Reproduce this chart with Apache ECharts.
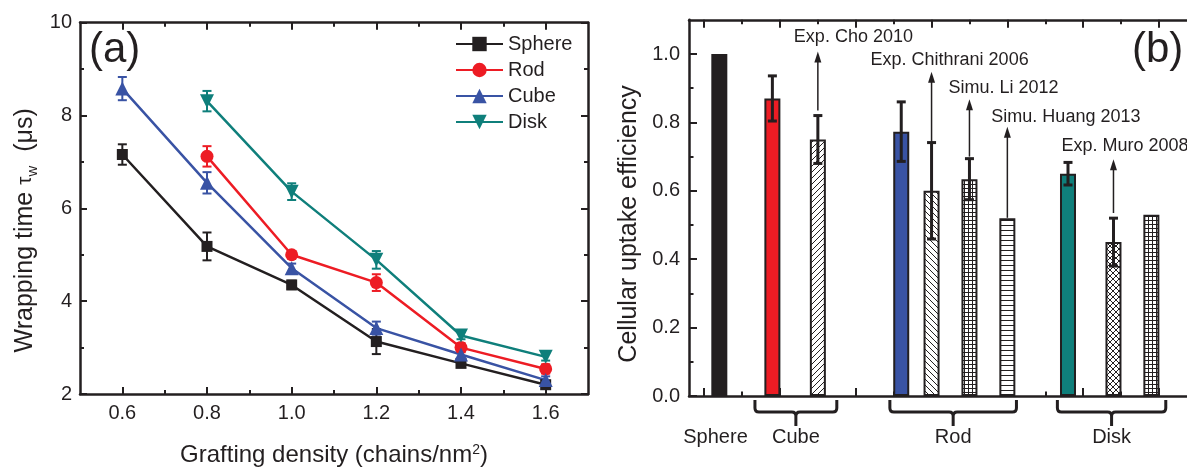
<!DOCTYPE html>
<html><head><meta charset="utf-8">
<script src="https://cdn.jsdelivr.net/npm/echarts@6/dist/echarts.min.js"></script>
<style>html,body{margin:0;padding:0;background:#fff}#c{width:1187px;height:472px}</style>
</head><body><div id="c"></div>
<script>
// ---------- Panel (a) data ----------
const densities = [0.6, 0.8, 1.0, 1.2, 1.4, 1.6];
const sphereTime = [7.16, 5.18, 4.35, 3.13, 2.66, 2.20];
const sphereErr  = [0.22, 0.30, 0.09, 0.27, 0.08, 0.08];
const rodTime    = [null, 7.12, 5.00, 4.40, 3.00, 2.54];
const rodErr     = [null, 0.22, 0.08, 0.18, 0.10, 0.10];
const cubeTime   = [8.58, 6.55, 4.71, 3.42, 2.85, 2.30];
const cubeErr    = [0.25, 0.23, 0.10, 0.14, 0.10, 0.08];
const diskTime   = [null, 8.31, 6.36, 4.89, 3.26, 2.80];
const diskErr    = [null, 0.22, 0.18, 0.19, 0.08, 0.08];
const xTicksA = [0.6, 0.8, 1.0, 1.2, 1.4, 1.6];
const xMinorA = [0.7, 0.9, 1.1, 1.3, 1.5];

// ---------- Panel (b) data ----------
const barPos = [0.4, 1.8, 3, 5.2, 6, 7, 8, 9.6, 10.8, 11.8];
const barVal = [1.0, 0.87, 0.75, 0.773, 0.60, 0.634, 0.52, 0.65, 0.45, 0.53];
const barErr = [null, 0.066, 0.07, 0.087, 0.141, 0.06, null, 0.033, 0.07, null];
const arrowText = ['Exp. Cho 2010', 'Exp. Chithrani 2006', 'Simu. Li 2012', 'Simu. Huang 2013', 'Exp. Muro 2008'];
const arrowPos  = [3, 6, 7, 8, 10.8];
const arrowFrom = [0.835, 0.741, 0.70, 0.521, 0.535];
const arrowTo   = [1.007, 0.948, 0.868, 0.787, 0.692];
const catNames = ['Sphere', 'Cube', 'Rod', 'Disk'];
const catPos   = [0.3, 2.42, 6.57, 10.75];
const groupFrom = [1.34, 4.9, 9.32];
const groupTo   = [3.5, 8.24, 12.18];
const xTicksB = [0, 2, 4, 6, 8, 10, 12];
const xMinorB = [1, 3, 5, 7, 9, 11];
const yTicksB = [0, 0.2, 0.4, 0.6, 0.8, 1.0];
const yMinorB = [0.1, 0.3, 0.5, 0.7, 0.9];

// ---------- styles ----------
const INK = '#231f20';
const FONT = '"Liberation Sans", Arial, Helvetica, sans-serif';
const colA = {Sphere: '#231f20', Rod: '#ed1c24', Cube: '#3953a4', Disk: '#0f7f7b'};
const barFill = ['#231f20', '#ed1c24', 'slash', '#3953a4', 'backslash', 'grid', 'hline', '#0f7f7b', 'cross', 'grid'];
const labelDx = [-24, -61, -21, -16, -52];
const labelDy = [-15, -12, -11, -10, -13];
const XMAX_B = 12.74;

function makePattern(kind) {
  const s = (kind === 'grid') ? 4 : (kind === 'hline' ? 5 : 6);
  const c = document.createElement('canvas');
  c.width = s; c.height = s;
  const g = c.getContext('2d');
  g.fillStyle = '#fff'; g.fillRect(0, 0, s, s);
  g.strokeStyle = INK; g.fillStyle = INK; g.lineWidth = 1;
  const seg = (a, b, cc, d) => { g.beginPath(); g.moveTo(a, b); g.lineTo(cc, d); g.stroke(); };
  if (kind === 'slash' || kind === 'cross') {
    seg(-1, s + 1, s + 1, -1); seg(-1, 1, 1, -1); seg(s - 1, s + 1, s + 1, s - 1);
  }
  if (kind === 'backslash' || kind === 'cross') {
    seg(-1, -1, s + 1, s + 1); seg(-1, s - 1, 1, s + 1); seg(s - 1, -1, s + 1, 1);
  }
  if (kind === 'grid') { g.fillRect(0, 0, s, 1); g.fillRect(0, 0, 1, s); }
  if (kind === 'hline') { g.fillRect(0, 0, s, 1); }
  return {image: c, repeat: 'repeat'};
}
function fillFor(k) { return k.startsWith('#') ? k : makePattern(k); }

function zip(xs, ys) { const o = []; xs.forEach((x, i) => { if (ys[i] != null) o.push([x, ys[i]]); }); return o; }
function errData(xs, ys, es) { const o = []; xs.forEach((x, i) => { if (ys[i] != null && es[i] != null) o.push([x, ys[i] - es[i], ys[i] + es[i]]); }); return o; }

function errRenderer(color, lw, cap) {
  return function (params, api) {
    const x = api.value(0);
    const p1 = api.coord([x, api.value(1)]), p2 = api.coord([x, api.value(2)]);
    const st = {stroke: color, lineWidth: lw};
    return {type: 'group', children: [
      {type: 'line', shape: {x1: p1[0], y1: p1[1], x2: p2[0], y2: p2[1]}, style: st},
      {type: 'line', shape: {x1: p1[0] - cap, y1: p1[1], x2: p1[0] + cap, y2: p1[1]}, style: st},
      {type: 'line', shape: {x1: p2[0] - cap, y1: p2[1], x2: p2[0] + cap, y2: p2[1]}, style: st}
    ]};
  };
}

const tickStyle = {color: INK, width: 2};
function lineOn() { return {show: true, onZero: false, lineStyle: {color: INK, width: 2.5}}; }
function lineOff() { return {show: false, onZero: false}; }
function xAx(grid, pos, min, max, vals, len, showLine, label) {
  const a = {type: 'value', gridIndex: grid, position: pos, min: min, max: max,
    axisLine: showLine ? lineOn() : lineOff(),
    axisTick: {show: true, inside: true, length: len, customValues: vals, lineStyle: tickStyle},
    axisLabel: {show: false}, splitLine: {show: false}};
  if (label) a.axisLabel = Object.assign({show: true, customValues: vals}, label);
  return a;
}
const tickLabel = {fontSize: 20, color: INK, fontFamily: FONT};

const seriesA = [
  {name: 'Sphere', data: sphereTime, err: sphereErr, symbol: 'rect', size: 11, rot: 0},
  {name: 'Rod', data: rodTime, err: rodErr, symbol: 'circle', size: 13, rot: 0},
  {name: 'Cube', data: cubeTime, err: cubeErr, symbol: 'triangle', size: 14, rot: 0},
  {name: 'Disk', data: diskTime, err: diskErr, symbol: 'triangle', size: 14, rot: 180}
];

const series = [];
seriesA.forEach(s => {
  series.push({type: 'custom', name: s.name + ' err', xAxisIndex: 0, yAxisIndex: 0, z: 2,
    renderItem: errRenderer(colA[s.name], 2, 4.5), encode: {x: 0, y: [1, 2]},
    data: errData(densities, s.data, s.err)});
});
seriesA.forEach(s => {
  series.push({type: 'line', name: s.name, xAxisIndex: 0, yAxisIndex: 0, z: 3,
    data: zip(densities, s.data), symbol: s.symbol, symbolSize: s.size, symbolRotate: s.rot,
    color: colA[s.name], lineStyle: {width: 2.5, color: colA[s.name]},
    itemStyle: {color: colA[s.name]}, emphasis: {disabled: true}});
});
series.push({type: 'bar', xAxisIndex: 4, yAxisIndex: 2, barWidth: 16, z: 2,
  data: barPos.map((p, i) => ({value: [p, barVal[i]],
    itemStyle: {color: fillFor(barFill[i]), borderColor: INK, borderWidth: 2}}))});
series.push({type: 'custom', xAxisIndex: 4, yAxisIndex: 2, z: 4, clip: false,
  renderItem: errRenderer(INK, 3, 4.5), encode: {x: 0, y: [1, 2]},
  data: errData(barPos, barVal, barErr)});
series.push({type: 'custom', xAxisIndex: 4, yAxisIndex: 2, z: 5, clip: false,
  encode: {x: 0, y: [1, 2]},
  data: arrowPos.map((p, i) => [p, arrowFrom[i], arrowTo[i]]),
  renderItem: function (params, api) {
    const i = params.dataIndex;
    const a = api.coord([api.value(0), api.value(1)]), b = api.coord([api.value(0), api.value(2)]);
    return {type: 'group', children: [
      {type: 'line', shape: {x1: a[0], y1: a[1], x2: b[0], y2: b[1] + 8}, style: {stroke: INK, lineWidth: 1.5}},
      {type: 'polygon', shape: {points: [[b[0], b[1]], [b[0] - 3.5, b[1] + 11], [b[0] + 3.5, b[1] + 11]]}, style: {fill: INK}},
      {type: 'text', x: b[0] + labelDx[i], y: b[1] + labelDy[i],
        style: {text: arrowText[i], font: '18px ' + FONT, fill: INK, align: 'left', verticalAlign: 'middle'}}
    ]};
  }});
series.push({type: 'custom', xAxisIndex: 4, yAxisIndex: 2, z: 5, clip: false,
  encode: {x: 0, y: 1},
  data: groupFrom.map((f, i) => [f, 0, groupTo[i]]),
  renderItem: function (params, api) {
    const a = api.coord([api.value(0), 0]), b = api.coord([api.value(2), 0]);
    const x1 = a[0], x2 = b[0], xc = (x1 + x2) / 2, y0 = a[1] + 4, yh = a[1] + 16, ys = a[1] + 30;
    const d = `M${x1} ${y0} L${x1} ${yh - 4} Q${x1} ${yh} ${x1 + 4} ${yh} L${xc - 4} ${yh} Q${xc} ${yh} ${xc} ${yh + 4} L${xc} ${ys}` +
              ` M${xc} ${yh + 4} Q${xc} ${yh} ${xc + 4} ${yh} L${x2 - 4} ${yh} Q${x2} ${yh} ${x2} ${yh - 4} L${x2} ${y0}`;
    return {type: 'path', shape: {pathData: d}, style: {stroke: INK, lineWidth: 3, fill: null}};
  }});
series.push({type: 'custom', xAxisIndex: 4, yAxisIndex: 2, z: 5, clip: false,
  encode: {x: 0, y: 1},
  data: catPos.map(p => [p, 0]),
  renderItem: function (params, api) {
    const a = api.coord([api.value(0), 0]);
    return {type: 'text', x: a[0], y: a[1] + 41,
      style: {text: catNames[params.dataIndex], font: '20px ' + FONT, fill: INK, align: 'center', verticalAlign: 'middle'}};
  }});

const option = {
  animation: false,
  backgroundColor: '#fff',
  textStyle: {fontFamily: FONT, color: INK},
  grid: [
    {left: 80, top: 22.7, width: 508, height: 374},
    {left: 689, top: 19.8, right: 0, height: 376.2}
  ],
  legend: {data: ['Sphere', 'Rod', 'Cube', 'Disk'], orient: 'vertical', left: 450, top: 29,
    itemWidth: 47, itemHeight: 18, itemGap: 6, textStyle: {fontSize: 20, color: INK, fontFamily: FONT},
    selectedMode: false},
  xAxis: [
    Object.assign(xAx(0, 'bottom', 0.5, 1.7, xTicksA, 7, true,
      Object.assign({margin: 9, formatter: v => Number(v).toFixed(1)}, tickLabel)),
      {name: 'Grafting density (chains/nm{sup|2})', nameLocation: 'middle', nameGap: 49,
       nameTextStyle: {fontSize: 24, color: INK, fontFamily: FONT, rich: {sup: {fontSize: 14, verticalAlign: 'top', lineHeight: 24, padding: [0, 0, 10, 0]}}}}),
    xAx(0, 'bottom', 0.5, 1.7, xMinorA, 4, false),
    xAx(0, 'top', 0.5, 1.7, xTicksA, 7, true),
    xAx(0, 'top', 0.5, 1.7, xMinorA, 4, false),
    xAx(1, 'bottom', -0.4, XMAX_B, xTicksB, 8, true),
    xAx(1, 'bottom', -0.4, XMAX_B, xMinorB, 4.5, false),
    xAx(1, 'top', -0.4, XMAX_B, xTicksB, 8, true),
    xAx(1, 'top', -0.4, XMAX_B, xMinorB, 4.5, false)
  ],
  yAxis: [
    {type: 'value', gridIndex: 0, position: 'left', min: 2, max: 10, interval: 2,
     axisLine: lineOn(), axisTick: {inside: true, length: 7, lineStyle: tickStyle},
     minorTick: {show: true, splitNumber: 2, length: 4, lineStyle: tickStyle},
     axisLabel: Object.assign({margin: 8}, tickLabel), splitLine: {show: false},
     name: 'Wrapping time {tau|τ}{sub|w}  (μs)', nameLocation: 'middle', nameGap: 40,
     nameTextStyle: {fontSize: 25, color: INK, fontFamily: FONT, lineHeight: 30, padding: [0, 44, 0, 0],
       rich: {tau: {fontSize: 21, lineHeight: 30}, sub: {fontSize: 15, lineHeight: 15, verticalAlign: 'bottom'}}}},
    {type: 'value', gridIndex: 0, position: 'right', min: 2, max: 10, interval: 2,
     axisLine: lineOn(), axisTick: {inside: true, length: 7, lineStyle: tickStyle},
     minorTick: {show: true, splitNumber: 2, length: 4, lineStyle: tickStyle},
     axisLabel: {show: false}, splitLine: {show: false}},
    {type: 'value', gridIndex: 1, position: 'left', min: 0, max: 1.1,
     axisLine: lineOn(),
     axisTick: {inside: true, length: 8, customValues: yTicksB, lineStyle: tickStyle},
     axisLabel: Object.assign({margin: 9, customValues: yTicksB, formatter: v => Number(v).toFixed(1)}, tickLabel),
     splitLine: {show: false},
     name: 'Cellular uptake efficiency', nameLocation: 'middle', nameGap: 47,
     nameTextStyle: {fontSize: 25, color: INK, fontFamily: FONT, padding: [0, 32, 0, 0]}},
    {type: 'value', gridIndex: 1, position: 'left', min: 0, max: 1.1,
     axisLine: lineOff(),
     axisTick: {inside: true, length: 4.5, customValues: yMinorB, lineStyle: tickStyle},
     axisLabel: {show: false}, splitLine: {show: false}}
  ],
  graphic: [
    {type: 'text', left: 89, top: 29, style: {text: '(a)', font: '42px ' + FONT, fill: INK}},
    {type: 'text', left: 1132, top: 29, style: {text: '(b)', font: '42px ' + FONT, fill: INK}}
  ],
  series: series
};
const chart = echarts.init(document.getElementById('c'), null, {renderer: 'canvas'});
chart.setOption(option);
</script></body></html>
